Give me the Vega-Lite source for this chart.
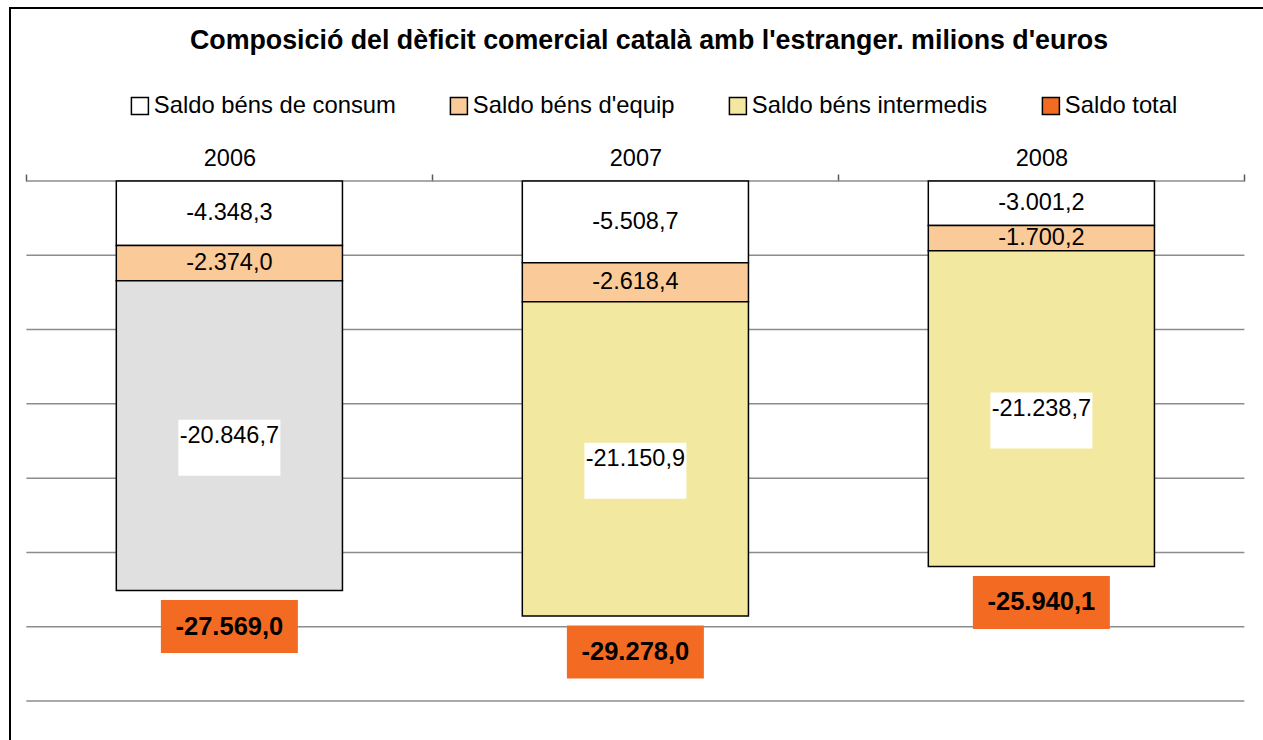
{
  "$schema": "https://vega.github.io/schema/vega-lite/v6.json",
  "width": 1260,
  "height": 742,
  "autosize": {"type": "none"},
  "padding": {"left": 10, "top": 8, "right": -7, "bottom": -10},
  "background": "white",
  "config": {
    "font": "Liberation Sans",
    "view": {"stroke": "black", "strokeWidth": 2},
    "locale": {"number": {"decimal": ",", "thousands": ".", "grouping": [3], "currency": ["", " €"], "minus": "-"}}
  },
  "title": {
    "text": "Composició del dèficit comercial català amb l'estranger. milions d'euros",
    "fontSize": 26.8, "fontWeight": "bold", "color": "black",
    "anchor": "middle", "frame": "group", "offset": 0,
    "baseline": "alphabetic", "dy": 68, "dx": 9
  },
  "datasets": {
    "segments": [
      {"year": "2006", "serie": "Saldo béns de consum", "order": 1, "value": -4348.3},
      {"year": "2006", "serie": "Saldo béns d'equip", "order": 2, "value": -2374.0},
      {"year": "2006", "serie": "Saldo béns intermedis", "order": 3, "value": -20846.7},
      {"year": "2007", "serie": "Saldo béns de consum", "order": 1, "value": -5508.7},
      {"year": "2007", "serie": "Saldo béns d'equip", "order": 2, "value": -2618.4},
      {"year": "2007", "serie": "Saldo béns intermedis", "order": 3, "value": -21150.9},
      {"year": "2008", "serie": "Saldo béns de consum", "order": 1, "value": -3001.2},
      {"year": "2008", "serie": "Saldo béns d'equip", "order": 2, "value": -1700.2},
      {"year": "2008", "serie": "Saldo béns intermedis", "order": 3, "value": -21238.7}
    ],
    "totals": [
      {"year": "2006", "total": -27569.0},
      {"year": "2007", "total": -29278.0},
      {"year": "2008", "total": -25940.1}
    ],
    "grid": [
      {"v": 0}, {"v": -5000}, {"v": -10000}, {"v": -15000},
      {"v": -20000}, {"v": -25000}, {"v": -30000}, {"v": -35000}
    ]
  },
  "layer": [
    {
      "data": {"name": "grid"},
      "mark": {"type": "rule", "color": "#8c8c8c", "strokeWidth": 1.5},
      "encoding": {
        "y": {"field": "v", "type": "quantitative", "axis": null},
        "x": {"datum": "2006", "type": "nominal", "bandPosition": 0},
        "x2": {"datum": "2008", "bandPosition": 1}
      }
    },
    {
      "data": {"name": "segments"},
      "mark": {"type": "bar", "stroke": "black", "strokeWidth": 1.5, "width": {"band": 0.557}},
      "encoding": {
        "x": {
          "field": "year", "type": "nominal",
          "scale": {"domain": ["2006", "2007", "2008"], "paddingInner": 0, "paddingOuter": 0.05172, "align": 0.39},
          "axis": {
            "orient": "top", "offset": -173, "title": null, "domain": false, "grid": false,
            "ticks": true, "tickBand": "extent", "tickSize": 7, "tickColor": "#595959", "tickWidth": 1.5,
            "labelAngle": 0, "labelAlign": "center", "labelFontSize": 23.5, "labelColor": "black", "labelPadding": 16
          }
        },
        "y": {
          "field": "value", "type": "quantitative", "stack": "zero",
          "scale": {"domain": [-38298, 11644], "nice": false, "zero": false},
          "axis": null
        },
        "order": {"field": "order", "type": "quantitative"},
        "fill": {
          "condition": {"test": "datum.year === '2006' && datum.serie === 'Saldo béns intermedis'", "value": "#E0E0E0"},
          "field": "serie", "type": "nominal",
          "scale": {
            "domain": ["Saldo béns de consum", "Saldo béns d'equip", "Saldo béns intermedis", "Saldo total"],
            "range": ["#FFFFFF", "#FACB98", "#F2E8A0", "#F36B22"]
          },
          "legend": {
            "orient": "none", "legendX": 118, "legendY": 86, "direction": "horizontal",
            "title": null, "symbolType": "square", "symbolSize": 289,
            "symbolStrokeColor": "black", "symbolStrokeWidth": 1.5, "symbolOpacity": 1,
            "labelFontSize": 23.8, "labelColor": "black", "labelOffset": 2,
            "columnPadding": 51, "labelLimit": 500, "padding": 0
          }
        }
      }
    },
    {
      "data": {"name": "segments"},
      "mark": {"type": "tick", "color": "white", "fill": "white", "size": 102, "thickness": 56, "yOffset": 12},
      "encoding": {
        "x": {"field": "year", "type": "nominal"},
        "y": {"field": "value", "type": "quantitative", "stack": "zero", "bandPosition": 0.5},
        "order": {"field": "order", "type": "quantitative"},
        "detail": {"field": "serie", "type": "nominal"},
        "opacity": {"condition": {"test": "datum.serie !== 'Saldo béns intermedis'", "value": 0}, "value": 1}
      }
    },
    {
      "data": {"name": "segments"},
      "mark": {"type": "text", "fontSize": 23.5, "color": "black", "baseline": "middle"},
      "encoding": {
        "x": {"field": "year", "type": "nominal"},
        "y": {"field": "value", "type": "quantitative", "stack": "zero", "bandPosition": 0.5},
        "order": {"field": "order", "type": "quantitative"},
        "detail": {"field": "serie", "type": "nominal"},
        "text": {"field": "value", "type": "quantitative", "format": ",.1f"}
      }
    },
    {
      "data": {"name": "totals"},
      "mark": {"type": "tick", "color": "#F36B22", "fill": "#F36B22", "opacity": 1, "size": 137, "thickness": 53, "yOffset": 36},
      "encoding": {
        "x": {"field": "year", "type": "nominal"},
        "y": {"field": "total", "type": "quantitative"}
      }
    },
    {
      "data": {"name": "totals"},
      "mark": {"type": "text", "fontSize": 25.5, "fontWeight": "bold", "color": "black", "baseline": "middle", "yOffset": 36},
      "encoding": {
        "x": {"field": "year", "type": "nominal"},
        "y": {"field": "total", "type": "quantitative"},
        "text": {"field": "total", "type": "quantitative", "format": ",.1f"}
      }
    }
  ]
}
